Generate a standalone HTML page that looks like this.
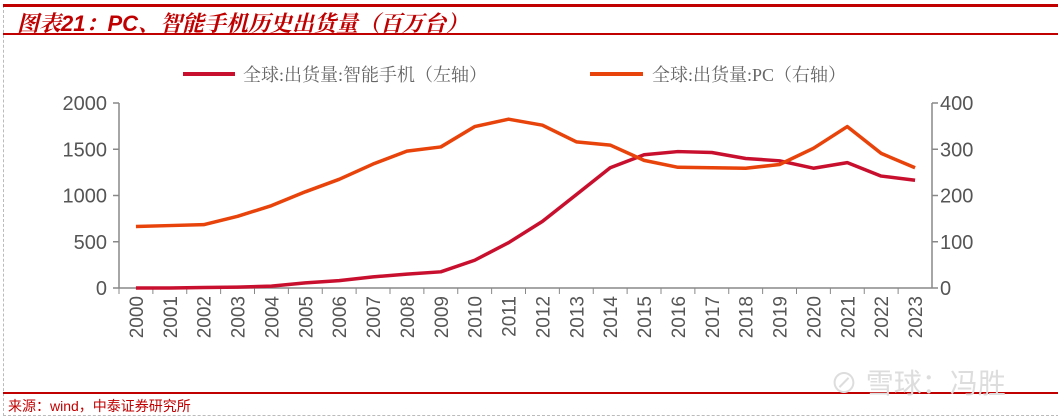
<!DOCTYPE html>
<html><head><meta charset="utf-8"><style>
body{margin:0;width:1058px;height:418px;background:#fff;overflow:hidden;position:relative;font-family:"Liberation Sans","Noto Sans CJK SC",sans-serif}
.abs{position:absolute}
</style></head><body>
<div class="abs" style="left:3px;top:5px;width:1060px;height:410px;border-left:1px dashed #bbb;border-bottom:1px dashed #bbb"></div>
<div class="abs" style="left:3px;top:4px;width:1058px;height:3px;background:#c00000"></div>
<div class="abs" style="left:17px;top:7px;font-size:22px;font-style:italic;font-weight:bold;color:#c00000;font-family:'Liberation Sans','Noto Serif CJK SC',serif">图表21：PC、智能手机历史出货量（百万台）</div>
<div class="abs" style="left:3px;top:33px;width:1058px;height:2px;background:#c00000"></div>
<div class="abs" style="left:3px;top:392px;width:1058px;height:2px;background:#c00000"></div>
<div class="abs" style="left:8px;top:396px;font-size:14px;color:#c00000">来源：wind，中泰证券研究所</div>
<div class="abs" style="left:830px;top:362px;font-size:28px;color:#ddd">⊘ 雪球：冯胜</div>
<svg class="abs" style="left:0;top:0" width="1058" height="418" id="chart"></svg>
<script>
const years=["2000","2001","2002","2003","2004","2005","2006","2007","2008","2009","2010","2011","2012","2013","2014","2015","2016","2017","2018","2019","2020","2021","2022","2023"];
const phone=[0,0,5,10,20,55,80,120,150,175,300,490,720,1010,1300,1440,1475,1465,1400,1375,1295,1355,1210,1165];
const pc=[133,135,137,155,178,208,235,268,296,305,349,365,352,316,309,276,261,260,259,267,302,349,291,260];
const leftTicks=[0,500,1000,1500,2000];
const rightTicks=[0,100,200,300,400];
const svg=document.getElementById('chart');const NS='http://www.w3.org/2000/svg';
const x0=119,x1=932,yB=288,yT=103;
const xs=i=>x0+(x1-x0)*(i+0.5)/years.length;
const yl=v=>yB-(v/2000)*(yB-yT);
const yr=v=>yB-(v/400)*(yB-yT);
function mk(t,a){const e=document.createElementNS(NS,t);for(const k in a)e.setAttribute(k,a[k]);svg.appendChild(e);return e;}
let e;
e=mk('line',{x1:x0,y1:yT,x2:x0,y2:yB,stroke:'#888','stroke-width':1.5});


e=mk('line',{x1:x1,y1:yT,x2:x1,y2:yB,stroke:'#888','stroke-width':1.5});


e=mk('line',{x1:x0,y1:yB,x2:x1,y2:yB,stroke:'#888','stroke-width':1.5});


leftTicks.forEach(v=>{mk('line',{x1:x0-6,y1:yl(v),x2:x0,y2:yl(v),stroke:'#888','stroke-width':1.5});
e=mk('text',{x:x0-12,y:yl(v)+7,'text-anchor':'end','font-size':20,fill:'#555'});e.textContent=v;

});
rightTicks.forEach(v=>{mk('line',{x1:x1,y1:yr(v),x2:x1+6,y2:yr(v),stroke:'#888','stroke-width':1.5});
e=mk('text',{x:x1+8,y:yr(v)+7,'font-size':20,fill:'#555'});e.textContent=v;

});
years.forEach((y,i)=>{const x=xs(i);mk('line',{x1:x0+(x1-x0)*i/years.length,y1:yB,x2:x0+(x1-x0)*i/years.length,y2:yB+6,stroke:'#888'});
e=mk('text',{x:0,y:0,'font-size':19,fill:'#555','text-anchor':'end',transform:`translate(${x+7},${yB+8}) rotate(-90)`});e.textContent=y;

});
e=mk('polyline',{points:phone.map((v,i)=>xs(i)+','+yl(v)).join(' '),fill:'none',stroke:'#c8102e','stroke-width':3.5,'stroke-linejoin':'round'});


e=mk('polyline',{points:pc.map((v,i)=>xs(i)+','+yr(v)).join(' '),fill:'none',stroke:'#e8430a','stroke-width':3.5,'stroke-linejoin':'round'});


e=mk('line',{x1:183,y1:74,x2:235,y2:74,stroke:'#c8102e','stroke-width':4});


e=mk('text',{x:243,y:81,'font-size':18,fill:'#666','font-family':'Liberation Serif, Noto Serif CJK SC, serif'});e.textContent='全球:出货量:智能手机（左轴）';


e=mk('line',{x1:590,y1:74,x2:643,y2:74,stroke:'#e8430a','stroke-width':4});


e=mk('text',{x:652,y:81,'font-size':18,fill:'#666','font-family':'Liberation Serif, Noto Serif CJK SC, serif'});e.textContent='全球:出货量:PC（右轴）';


</script>
</body></html>
